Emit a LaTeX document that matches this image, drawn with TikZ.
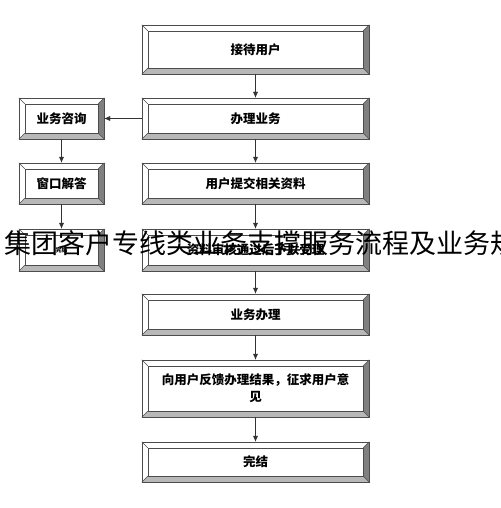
\documentclass[tikz,border=0pt]{standalone}
\usepackage{fontspec}
\newfontfamily\cjk{Noto Sans CJK SC}
\usetikzlibrary{arrows.meta}
\tikzset{
  box/.style = {draw = black!70, minimum width = 227pt, minimum height = 41pt, inner sep = 0pt,
    font = \cjk\bfseries\fontsize{12.5}{17}\selectfont, align = center},
  sidebox/.style = {box, minimum width = 85pt},
  flow/.style = {draw = black!80, -{Latex[length = 6pt, width = 5pt]}}
}
\begin{document}
\begin{tikzpicture}[x = 1pt, y = -1pt]
            \useasboundingbox (0, 0) rectangle (500, 508);
            \clip (0, 0) rectangle (500, 508);
            \node [box, minimum height = 49pt] (reception) at (255.5, 49.5) {接待用户};
            \node [box] (handle) at (255.5, 118.5) {办理业务};
            \node [sidebox] (consult) at (61.5, 118.5) {业务咨询};
            \node [sidebox] (window) at (61.5, 183.5) {窗口解答};
            \node [box] (submit) at (255.5, 183.5) {用户提交相关资料};
            \node [sidebox, minimum height = 42pt, font = \cjk\bfseries\fontsize{6}{7}\selectfont] (closed) at (61.5, 250) {完结};
            \node [box, minimum height = 42pt] (review) at (255.5, 250) {资料审核通过后予以受理};
            \node [box] (process) at (255.5, 314.5) {业务办理};
            \node [box, minimum height = 57pt] (feedback) at (255.5, 388.5) {向用户反馈办理结果，征求用户意\\见};
            \node [box, minimum height = 40pt] (finish) at (255.5, 462) {完结};
            \foreach \n in {reception, handle, consult, window, submit, closed, review, process, feedback, finish} {
                \fill [black!50] (\n.north east) -- (\n.south east) -- ([shift = {(-6pt, 6pt)}] \n.south east) -- ([shift = {(-6pt, -6pt)}] \n.north east) -- cycle;
                \fill [black!28] (\n.south west) -- (\n.south east) -- ([shift = {(-6pt, 6pt)}] \n.south east) -- ([shift = {(6pt, 6pt)}] \n.south west) -- cycle;
                \draw [black!70] ([shift = {(6pt, -6pt)}] \n.north west) rectangle ([shift = {(-6pt, 6pt)}] \n.south east);
                \draw [black!70] (\n.north west) -- ([shift = {(6pt, -6pt)}] \n.north west);
                \draw [black!70] (\n.north east) -- ([shift = {(-6pt, -6pt)}] \n.north east);
                \draw [black!70] (\n.south west) -- ([shift = {(6pt, 6pt)}] \n.south west);
                \draw [black!70] (\n.south east) -- ([shift = {(-6pt, 6pt)}] \n.south east);
                \draw [black!70] (\n.north west) rectangle (\n.south east);
            }
            \draw [flow] (reception) -- (handle);
            \draw [flow] (handle) -- (consult);
            \draw [flow] (consult) -- (window);
            \draw [flow] (window) -- (closed);
            \draw [flow] (handle) -- (submit);
            \draw [flow] (submit) -- (review);
            \draw [flow] (review) -- (process);
            \draw [flow] (process) -- (feedback);
            \draw [flow] (feedback) -- (finish);
            \node [anchor = west, inner sep = 0pt, font = \cjk\fontsize{27}{27}\selectfont] (heading) at (4, 243) {集团客户专线类业务支撑服务流程及业务规};
        \end{tikzpicture}
\end{document}
